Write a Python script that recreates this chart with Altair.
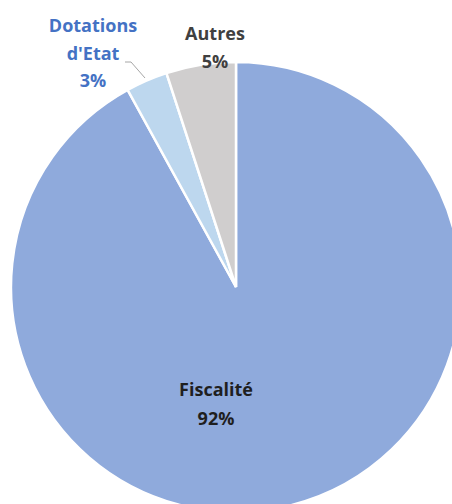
import altair as alt
import pandas as pd

categories = ["Fiscalité", "Dotations d'Etat", "Autres"]
values = [92, 3, 5]
colors = ["#8FAADC", "#BDD7EE", "#D0CECE"]
order = [0, 1, 2]

df = pd.DataFrame({"cat": categories, "val": values, "ord": order})

CX, CY, R = 236, 287, 225

pie = alt.Chart(df).mark_arc(radius=R, stroke="white", strokeWidth=2.5).encode(
    theta=alt.Theta("val:Q", stack=True),
    color=alt.Color("cat:N", scale=alt.Scale(domain=categories, range=colors), legend=None),
    order=alt.Order("ord:Q"),
    x=alt.value(CX),
    y=alt.value(CY),
)

def lab(text, x, y, color):
    return alt.Chart(pd.DataFrame({"t": [text]})).mark_text(
        font="Open Sans", fontWeight="bold", fontSize=18, color=color, baseline="middle", align="center"
    ).encode(text="t:N", x=alt.value(x), y=alt.value(y))

blue = "#4472C4"
grey = "#404040"
dark = "#1F1F1F"

labels = [
    lab("Dotations", 93, 27, blue),
    lab("d'Etat", 93, 55, blue),
    lab("3%", 93, 82, blue),
    lab("Autres", 215, 35, grey),
    lab("5%", 215, 63, grey),
    lab("Fiscalité", 216, 391, dark),
    lab("92%", 216, 420, dark),
]

leader1 = alt.Chart(pd.DataFrame({"a": [0]})).mark_rule(color="#A6A6A6", strokeWidth=1).encode(
    x=alt.value(125), x2=alt.value(131), y=alt.value(62), y2=alt.value(62)
)
leader2 = alt.Chart(pd.DataFrame({"a": [0]})).mark_rule(color="#A6A6A6", strokeWidth=1).encode(
    x=alt.value(131), x2=alt.value(145), y=alt.value(62), y2=alt.value(78)
)

chart = alt.layer(pie, leader1, leader2, *labels).properties(
    width=452, height=504, padding=0, autosize=alt.AutoSizeParams(type="none"),
    background="white",
).configure_view(stroke=None)

chart.save("out.html", embed_options={"renderer": "svg", "actions": False})
